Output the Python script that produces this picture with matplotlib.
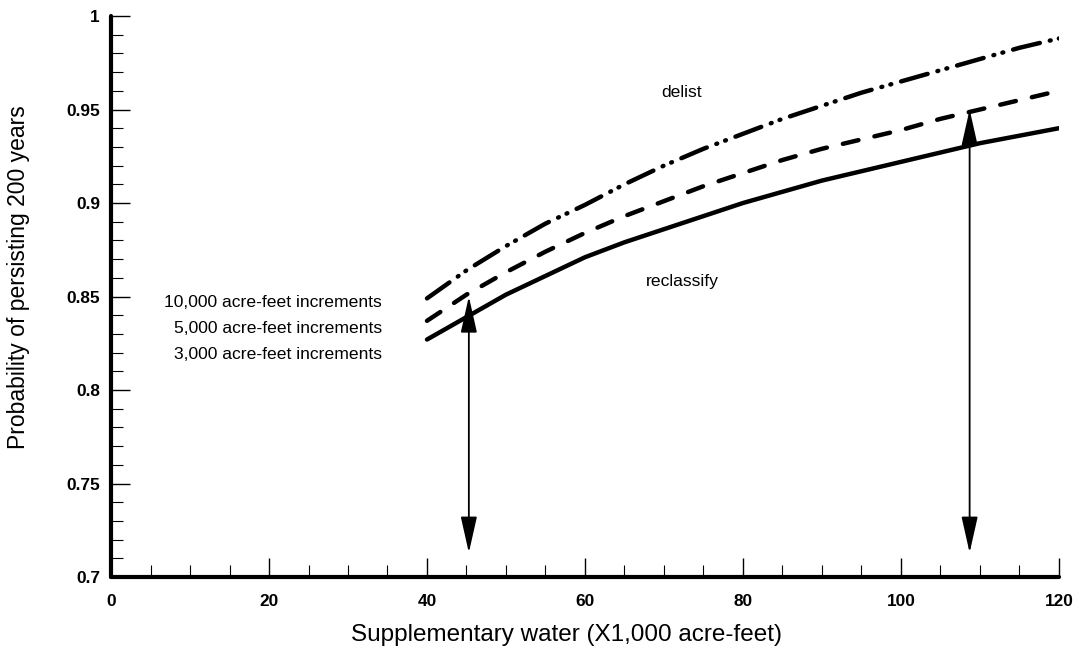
import matplotlib
matplotlib.use('Agg')
import matplotlib.pyplot as plt
from matplotlib.ticker import MultipleLocator, FuncFormatter

# supplementary water (x1,000 acre-feet)
water = [40, 45, 50, 55, 60, 65, 70, 75, 80, 85, 90, 95, 100, 105, 110, 115, 120]
# probability of persisting 200 years, by increment size
inc_3000 = [0.827, 0.839, 0.851, 0.861, 0.871, 0.879, 0.886, 0.893, 0.900,
            0.906, 0.912, 0.917, 0.922, 0.927, 0.932, 0.936, 0.940]
inc_5000 = [0.837, 0.851, 0.863, 0.874, 0.884, 0.893, 0.901, 0.909, 0.916,
            0.923, 0.929, 0.934, 0.939, 0.945, 0.950, 0.955, 0.960]
inc_10000 = [0.849, 0.864, 0.877, 0.889, 0.899, 0.910, 0.920, 0.929, 0.937,
             0.945, 0.952, 0.959, 0.965, 0.971, 0.977, 0.983, 0.988]

# double arrows: x position, lower and upper probability
arrow_x = [45.3, 108.7]
arrow_lo = [0.713, 0.713]
arrow_hi = [0.850, 0.950]

labels = ['10,000 acre-feet increments', '5,000 acre-feet increments', '3,000 acre-feet increments']
label_y = [0.847, 0.833, 0.819]

plt.rcParams['font.family'] = ['Liberation Sans', 'DejaVu Sans']

fig = plt.figure(figsize=(10.75, 6.54), dpi=100)
ax = fig.add_axes([0.1033, 0.1177, 0.8817, 0.8578])

lw = 3.2
ax.plot(water, inc_3000, color='black', lw=lw, solid_capstyle='round',
        solid_joinstyle='round')
ax.plot(water, inc_5000, color='black', lw=lw, linestyle=(0, (3.6, 3.7)),
        dash_capstyle='round')
ax.plot(water, inc_10000, color='black', lw=lw,
        linestyle=(0, (6.2, 2.3, 0.2, 1.9, 0.2, 2.3)), dash_capstyle='round')

for x, lo, hi in zip(arrow_x, arrow_lo, arrow_hi):
    ax.annotate('', xy=(x, hi), xytext=(x, lo),
                arrowprops=dict(arrowstyle='<|-|>,head_length=1.6,head_width=0.36',
                                color='black', lw=1.3, mutation_scale=14,
                                shrinkA=0, shrinkB=0))

ax.text(72.2, 0.959, 'delist', fontsize=12.6, ha='center', va='center')
ax.text(72.3, 0.858, 'reclassify', fontsize=12.6, ha='center', va='center')
for t, y in zip(labels, label_y):
    ax.text(34.3, y, t, fontsize=12.6, ha='right', va='center')

ax.set_xlim(0, 120)
ax.set_ylim(0.7, 1.0)
ax.xaxis.set_major_locator(MultipleLocator(20))
ax.xaxis.set_minor_locator(MultipleLocator(5))
ax.yaxis.set_major_locator(MultipleLocator(0.05))
ax.yaxis.set_minor_locator(MultipleLocator(0.01))
ax.yaxis.set_major_formatter(FuncFormatter(lambda v, p: ('%.2f' % v).rstrip('0').rstrip('.')))

ax.tick_params(which='major', direction='in', length=14, width=1.0,
               labelsize=12.4, pad=8)
ax.tick_params(axis='x', which='major', pad=12)
ax.tick_params(which='minor', direction='in', length=8.5, width=0.8)
for lab in ax.get_xticklabels() + ax.get_yticklabels():
    lab.set_fontweight('bold')

for s in ['top', 'right']:
    ax.spines[s].set_visible(False)
ax.spines['left'].set_linewidth(3)
ax.spines['bottom'].set_linewidth(3)
ax.spines['left'].set_capstyle('round')
ax.spines['bottom'].set_capstyle('round')

ax.set_xlabel('Supplementary water (X1,000 acre-feet)', fontsize=17.5, labelpad=11)
ax.set_ylabel('Probability of persisting 200 years', fontsize=16.5, labelpad=26)
ax.xaxis.label.set_x(0.48)
ax.yaxis.label.set_y(0.535)

fig.savefig('out.png', dpi=100)
